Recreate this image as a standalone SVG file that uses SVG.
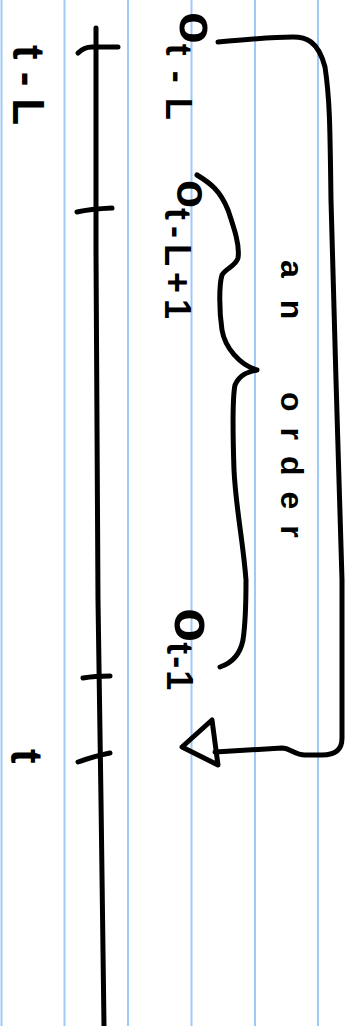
<svg xmlns="http://www.w3.org/2000/svg" width="355" height="1026" viewBox="0 0 355 1026">
<style>
.rule{stroke:#9ec9f8;stroke-width:2;fill:none}
.ink{stroke:#000;stroke-width:5;fill:none;stroke-linecap:round;stroke-linejoin:round}
.txt{font-family:"Liberation Sans","DejaVu Sans",sans-serif;font-weight:700;fill:#000}
</style>
<rect width="355" height="1026" fill="#fff"/>
<g id="paper-rules">
<line class="rule" x1="1.5" y1="0" x2="1.5" y2="1026"/>
<line class="rule" x1="64.5" y1="0" x2="64.5" y2="1026"/>
<line class="rule" x1="128" y1="0" x2="128" y2="1026"/>
<line class="rule" x1="191.5" y1="0" x2="191.5" y2="1026"/>
<line class="rule" x1="255" y1="0" x2="255" y2="1026"/>
<line class="rule" x1="318" y1="0" x2="318" y2="1026"/>
</g>
<g id="timeline">
<path class="ink" d="M96,28 L96,250 L98,600 L101,800 L104,1026"/>
<path class="ink" d="M78,53 Q84,47 92,47 L118,47"/>
<path class="ink" d="M77,212 Q90,209 112,208"/>
<path class="ink" d="M83,678 Q95,676 110,676"/>
<path class="ink" d="M78,762 Q95,756 110,753"/>
</g>
<g id="label-t-L">
<text class="txt" transform="translate(13,45) rotate(90)" font-size="44" letter-spacing="12">t-L</text>
</g>
<g id="label-t">
<text class="txt" transform="translate(11,749) rotate(90)" font-size="44">t</text>
</g>
<g id="node-o-t-L">
<text class="txt" transform="translate(180,12) rotate(90)" font-size="52">o<tspan font-size="36" dy="14" letter-spacing="15">t-L</tspan></text>
</g>
<g id="node-o-t-L-1">
<text class="txt" transform="translate(177,180) rotate(90)" font-size="46">o<tspan font-size="36" dy="12" letter-spacing="6">t-L+1</tspan></text>
</g>
<g id="node-o-t-1">
<text class="txt" transform="translate(175,608) rotate(90)" font-size="56">o<tspan font-size="36" dy="8" letter-spacing="2">t-1</tspan></text>
</g>
<g id="label-an-order">
<text class="txt" transform="translate(281,260) rotate(90)" font-size="32"><tspan letter-spacing="22">an</tspan><tspan x="132" letter-spacing="16">order</tspan></text>
</g>
<g id="connectors">
<path class="ink" d="M218,42 C250,39 280,37 293,37 C305,37 318,40 325,67 C330,100 330,130 331,200 L336,380 L342,580 L342,738 C342,750 335,755 322,755 L305,755 C295,755 290,748 282,748 L215,752"/>
<path class="ink" d="M182,747 L212,720 L218,765 Z"/>
<path class="ink" d="M197,175 C210,183 220,190 228,210 C234,228 240,245 238,258 C236,266 226,268 222,275 C219,285 219,310 222,330 C225,348 240,365 257,370 C248,372 240,374 235,385 C232,400 233,440 234,470 C236,510 243,540 246,580 C246,600 246,620 243,640 C240,655 232,663 220,667"/>
</g>
</svg>
